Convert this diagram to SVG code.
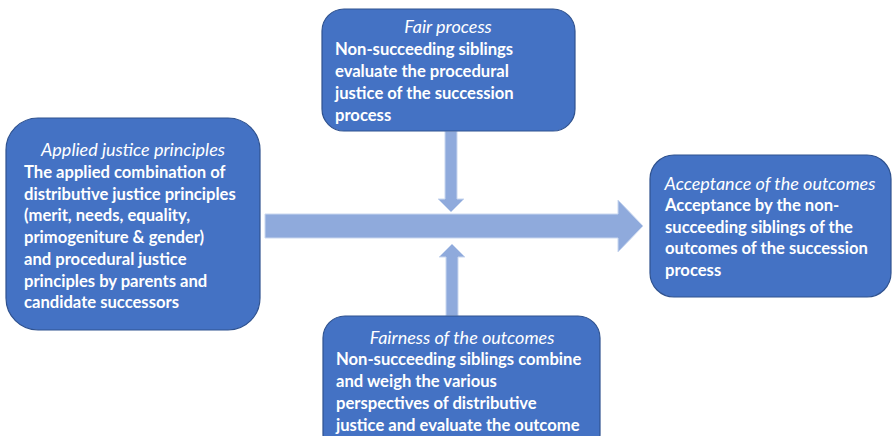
<svg xmlns="http://www.w3.org/2000/svg" width="892" height="436" viewBox="0 0 892 436">
  <style>
    .box { fill: #4472C4; stroke: #2F528F; stroke-width: 1.2; }
    .arrow { fill: #8FAADC; stroke: #C9D7EF; stroke-width: 1; }
    text { font-family: Lato, "Open Sans", "Liberation Sans", sans-serif; font-size: 16.6px; fill: #FFFFFF; font-weight: bold; }
    .title { font-style: italic; font-weight: normal; font-size: 18px; text-anchor: middle; }
  </style>
  <rect width="892" height="436" fill="#FFFFFF"/>

  <!-- connectors -->
  <g id="connectors">
    <!-- main horizontal arrow -->
    <polygon class="arrow" points="265,214 618,214 618,200 643,226 618,252 618,238 265,238"/>
    <!-- arrow down from the top box -->
    <polygon class="arrow" points="445,131 457,131 457,199 464,199 451,212 438,199 445,199"/>
    <!-- arrow up from the bottom box -->
    <polygon class="arrow" points="446,316 458,316 458,257 465,257 452,244 439,257 446,257"/>
  </g>

  <g id="fair-process">
    <rect class="box" x="322" y="9" width="253" height="122" rx="22"/>
    <text class="title" x="448" y="33">Fair process</text>
    <text x="335" y="55">Non-succeeding siblings</text>
    <text x="335" y="77">evaluate the procedural</text>
    <text x="335" y="99">justice of the succession</text>
    <text x="335" y="121">process</text>
  </g>

  <g id="applied-justice-principles">
    <rect class="box" x="6" y="118" width="254" height="212" rx="32"/>
    <text class="title" x="133" y="156">Applied justice principles</text>
    <text x="24" y="178">The applied combination of</text>
    <text x="24" y="199.5">distributive justice principles</text>
    <text x="24" y="221">(merit, needs, equality,</text>
    <text x="24" y="243">primogeniture &amp; gender)</text>
    <text x="24" y="265">and procedural justice</text>
    <text x="24" y="287">principles by parents and</text>
    <text x="24" y="308">candidate successors</text>
  </g>

  <g id="acceptance-of-outcomes">
    <rect class="box" x="650" y="155" width="241" height="142" rx="24"/>
    <text class="title" x="770" y="190">Acceptance of the outcomes</text>
    <text x="665" y="211">Acceptance by the non-</text>
    <text x="665" y="233">succeeding siblings of the</text>
    <text x="665" y="254">outcomes of the succession</text>
    <text x="665" y="276">process</text>
  </g>

  <g id="fairness-of-outcomes">
    <rect class="box" x="323" y="316" width="277" height="140" rx="22"/>
    <text class="title" x="462" y="344">Fairness of the outcomes</text>
    <text x="336" y="365">Non-succeeding siblings combine</text>
    <text x="336" y="387">and weigh the various</text>
    <text x="336" y="409">perspectives of distributive</text>
    <text x="336" y="431">justice and evaluate the outcome</text>
  </g>
</svg>
